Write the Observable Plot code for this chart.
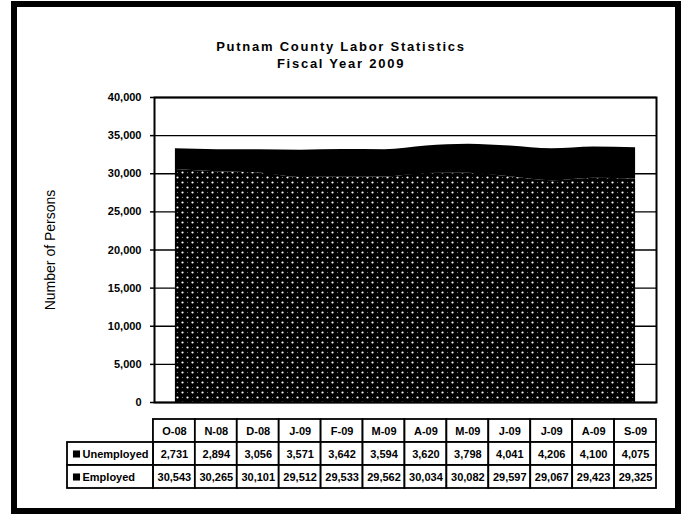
<!DOCTYPE html>
<html>
<head>
<meta charset="utf-8">
<script src="https://cdn.jsdelivr.net/npm/d3@7"></script>
<script src="https://cdn.jsdelivr.net/npm/@observablehq/plot@0.6"></script>
<style>
  html, body { margin: 0; padding: 0; background: #fff; }
  #wrap { position: relative; width: 682px; height: 514px; overflow: hidden; font-family: "Liberation Sans", Arial, sans-serif; }
  #frame { position: absolute; left: 11px; top: 1px; width: 670px; height: 513px; box-sizing: border-box; border: 6px solid #000; pointer-events: none; }
  #title { position: absolute; left: 0; top: 38px; width: 682px; text-align: center; font-weight: bold; font-size: 13px; letter-spacing: 1.75px; line-height: 17px; color: #000; }
  #main, #table { position: absolute; left: 0; }
  #main { top: 0; }
  #table { top: 415px; }
</style>
</head>
<body>
<div id="wrap">
  <div id="title">Putnam County Labor Statistics<br>Fiscal Year 2009</div>
  <div id="main"></div>
  <div id="table"></div>
  <div id="frame"></div>
</div>
<script>
const months = ["O-08","N-08","D-08","J-09","F-09","M-09","A-09","M-09","J-09","J-09","A-09","S-09"];
const unemployed = [2731,2894,3056,3571,3642,3594,3620,3798,4041,4206,4100,4075];
const employed = [30543,30265,30101,29512,29533,29562,30034,30082,29597,29067,29423,29325];
const yTicks = [0,5000,10000,15000,20000,25000,30000,35000,40000];
const seriesNames = ["Unemployed","Employed"];
const yLabel = "Number of Persons";

const fmt = d3.format(",");
const data = months.map((m, i) => ({
  i, month: m, employed: employed[i], unemployed: unemployed[i], total: employed[i] + unemployed[i]
}));

const main = Plot.plot({
  width: 682, height: 420,
  marginLeft: 154, marginRight: 26, marginTop: 97, marginBottom: 18,
  x: {domain: [-0.5, months.length - 0.5], axis: null},
  y: {domain: [0, 40000], label: null},
  color: {type: "identity"},
  style: {fontFamily: "Liberation Sans, Arial, sans-serif", fontSize: "11px", fontWeight: "bold", background: "transparent", color: "#000", overflow: "visible"},
  marks: [
    Plot.gridY(yTicks, {stroke: "#000", strokeOpacity: 1, strokeWidth: 1.3}),
    Plot.areaY(data, {x: "i", y1: 0, y2: "employed", fill: () => "url(#dots)", curve: "monotone-x"}),
    Plot.areaY(data, {x: "i", y1: "employed", y2: "total", fill: "#000", curve: "monotone-x"}),
    Plot.frame({stroke: "#000", strokeWidth: 2}),
    Plot.axisY(yTicks, {tickSize: 4, tickPadding: 9, tickFormat: fmt, label: null, strokeWidth: 1.5}),
    Plot.text([yLabel], {frameAnchor: "left", dx: -104, rotate: -90, textAnchor: "middle", fontSize: 14, fontWeight: "normal", text: d => d})
  ]
});

d3.select(main).insert("defs", ":first-child").html(`
  <pattern id="dots" patternUnits="userSpaceOnUse" width="10" height="10">
    <rect width="10" height="10" fill="#000"/>
    <circle cx="2.5" cy="2.5" r="1.1" fill="#fff"/>
    <circle cx="7.5" cy="7.5" r="1.1" fill="#fff"/>
    <circle cx="7.5" cy="2.5" r="0.5" fill="#999"/>
    <circle cx="2.5" cy="7.5" r="0.5" fill="#999"/>
  </pattern>`);
document.getElementById("main").appendChild(main);

// Table
const labelSpan = 2.05;
const rows = ["header", ...seriesNames];
const cells = [];
months.forEach((m, i) => {
  cells.push({row: "header", x1: i, x2: i + 1, text: m});
  cells.push({row: "Unemployed", x1: i, x2: i + 1, text: fmt(unemployed[i])});
  cells.push({row: "Employed", x1: i, x2: i + 1, text: fmt(employed[i])});
});
const labelCells = seriesNames.map(s => ({row: s, x1: -labelSpan, x2: 0, text: s}));

const table = Plot.plot({
  width: 682, height: 80,
  marginLeft: 67, marginRight: 26, marginTop: 4, marginBottom: 7,
  x: {domain: [-labelSpan, months.length], axis: null},
  y: {domain: rows, axis: null, padding: 0},
  style: {fontFamily: "Liberation Sans, Arial, sans-serif", fontSize: "11px", fontWeight: "bold", background: "transparent", color: "#000", overflow: "visible"},
  marks: [
    Plot.barX(cells, {x1: "x1", x2: "x2", y: "row", fill: "#fff", stroke: "#000", strokeWidth: 1.8}),
    Plot.barX(labelCells, {x1: "x1", x2: "x2", y: "row", fill: "#fff", stroke: "#000", strokeWidth: 1.8}),
    Plot.text(cells, {x: d => (d.x1 + d.x2) / 2, y: "row", text: "text", fontSize: 11}),
    Plot.dot(labelCells, {x: "x1", y: "row", symbol: "square", r: 4, fill: "#000", dx: 9}),
    Plot.text(labelCells, {x: "x1", y: "row", text: "text", textAnchor: "start", dx: 15, fontSize: 11})
  ]
});
document.getElementById("table").appendChild(table);
</script>
</body>
</html>
